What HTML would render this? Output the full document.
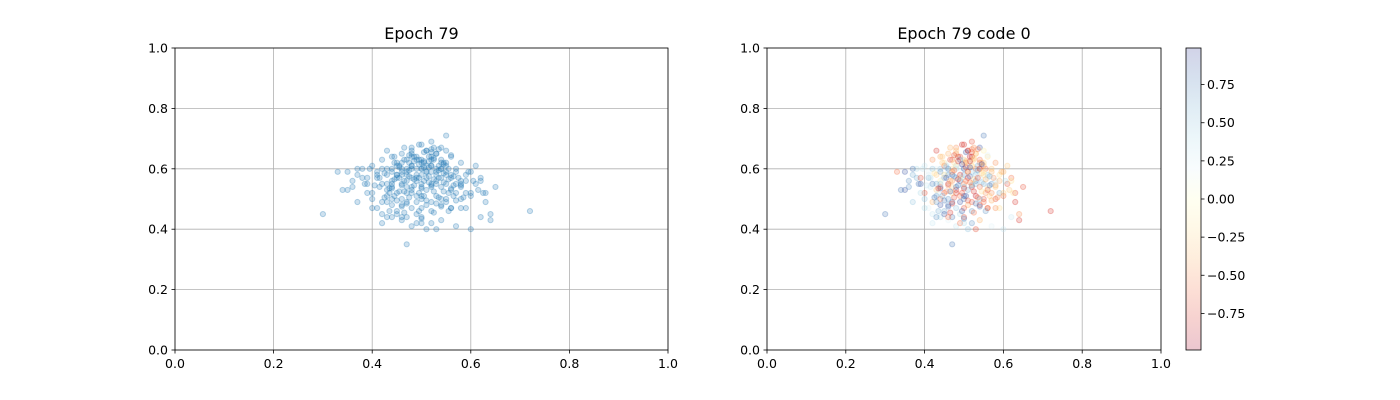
<!DOCTYPE html>
<html><head><meta charset="utf-8"><style>
html,body{margin:0;padding:0;background:#fff;}
svg{display:block;font-family:"DejaVu Sans","Liberation Sans",sans-serif;}
</style></head><body>
<svg id="fig" width="1400" height="400" viewBox="0 0 1400 400" xmlns="http://www.w3.org/2000/svg">
<defs>
<linearGradient id="cmap" x1="0" y1="1" x2="0" y2="0">
<stop offset="0" stop-color="#a50026"/><stop offset="0.1" stop-color="#d73027"/><stop offset="0.2" stop-color="#f46d43"/><stop offset="0.3" stop-color="#fdae61"/><stop offset="0.4" stop-color="#fee090"/><stop offset="0.5" stop-color="#ffffbf"/><stop offset="0.6" stop-color="#e0f3f8"/><stop offset="0.7" stop-color="#abd9e9"/><stop offset="0.8" stop-color="#74add1"/><stop offset="0.9" stop-color="#4575b4"/><stop offset="1" stop-color="#313695"/>
</linearGradient>
</defs>
<g id="root"></g>
</svg>
<script>
const xs=[0.30,0.33,0.35,0.36,0.37,0.38,0.39,0.40,0.40,0.41,0.41,0.42,0.42,0.42,0.43,0.43,0.43,0.44,0.44,0.44,0.44,0.45,0.45,0.45,0.45,0.46,0.46,0.46,0.46,0.46,0.47,0.47,0.47,0.47,0.47,0.48,0.48,0.48,0.48,0.48,0.48,0.49,0.49,0.49,0.49,0.49,0.50,0.50,0.50,0.50,0.50,0.50,0.51,0.51,0.51,0.51,0.51,0.52,0.52,0.52,0.52,0.52,0.53,0.53,0.53,0.53,0.53,0.54,0.54,0.54,0.54,0.55,0.55,0.55,0.55,0.56,0.56,0.56,0.57,0.57,0.57,0.58,0.58,0.58,0.59,0.59,0.60,0.60,0.61,0.62,0.63,0.64,0.65,0.72,0.47,0.50,0.52,0.55,0.53,0.49,0.44,0.46,0.48,0.51,0.54,0.56,0.43,0.45,0.47,0.50,0.52,0.55,0.57,0.59,0.41,0.38,0.36,0.34,0.40,0.42,0.44,0.46,0.48,0.50,0.52,0.54,0.56,0.58,0.60,0.62,0.49,0.51,0.53,0.47,0.45,0.43,0.55,0.57,0.50,0.48,0.52,0.46,0.54,0.44,0.58,0.39,0.61,0.63,0.35,0.37,0.42,0.60,0.64,0.52,0.49,0.47,0.51,0.53,0.45,0.50,0.56,0.43,0.40,0.59,0.62,
0.445,0.455,0.465,0.475,0.485,0.495,0.505,0.515,0.525,0.535,0.545,0.555,0.44,0.45,0.46,0.47,0.48,0.49,0.50,0.51,0.52,0.53,0.54,0.55,0.445,0.455,0.465,0.475,0.485,0.495,0.505,0.515,0.525,0.535,0.545,0.555,0.43,0.44,0.46,0.48,0.50,0.52,0.54,0.56,0.58,0.435,0.465,0.495,0.525,0.555,0.415,0.425,0.445,0.475,0.505,0.535,0.565,0.585,0.41,0.43,0.45,0.47,0.49,0.51,0.53,0.55,0.57,0.42,0.46,0.50,0.54,0.58,0.405,0.435,0.465,0.495,0.525,0.555,0.44,0.48,0.52,0.56,0.46,0.50,0.54,0.48,0.52,0.39,0.37,0.385,0.395,0.605,0.615,0.595,0.575,0.625,0.475,0.505,0.535,0.485,0.515,0.455,0.545,0.565,0.425,0.415,0.525,0.495,0.465,0.445,0.535,0.505,0.475,0.485,0.515,0.545,0.455,0.435,0.565,0.505,0.525,0.545,0.495,0.515];
const ys=[0.45,0.59,0.53,0.56,0.49,0.60,0.55,0.52,0.61,0.57,0.47,0.63,0.55,0.42,0.58,0.51,0.66,0.60,0.54,0.48,0.44,0.62,0.57,0.52,0.46,0.65,0.59,0.55,0.50,0.43,0.63,0.58,0.54,0.49,0.35,0.67,0.61,0.57,0.53,0.47,0.41,0.64,0.60,0.56,0.51,0.45,0.68,0.62,0.58,0.55,0.50,0.44,0.66,0.61,0.57,0.53,0.48,0.69,0.63,0.59,0.54,0.46,0.65,0.60,0.56,0.51,0.40,0.67,0.62,0.57,0.48,0.71,0.61,0.55,0.50,0.64,0.58,0.53,0.60,0.55,0.41,0.62,0.56,0.50,0.58,0.52,0.59,0.40,0.55,0.57,0.49,0.43,0.54,0.46,0.60,0.63,0.61,0.58,0.65,0.57,0.56,0.62,0.64,0.59,0.60,0.57,0.53,0.58,0.52,0.60,0.55,0.62,0.52,0.56,0.59,0.57,0.54,0.53,0.50,0.49,0.50,0.48,0.52,0.51,0.49,0.50,0.47,0.54,0.51,0.56,0.63,0.66,0.59,0.56,0.61,0.60,0.66,0.59,0.54,0.60,0.64,0.58,0.63,0.55,0.55,0.52,0.61,0.52,0.59,0.60,0.45,0.52,0.45,0.42,0.42,0.44,0.40,0.55,0.45,0.42,0.47,0.44,0.47,0.47,0.44,
0.62,0.61,0.63,0.62,0.64,0.63,0.62,0.64,0.63,0.61,0.62,0.60,0.59,0.58,0.60,0.59,0.61,0.58,0.60,0.59,0.61,0.58,0.60,0.59,0.565,0.57,0.56,0.575,0.565,0.57,0.56,0.575,0.565,0.57,0.555,0.565,0.55,0.535,0.545,0.54,0.535,0.545,0.54,0.535,0.545,0.52,0.525,0.52,0.525,0.52,0.57,0.505,0.51,0.505,0.51,0.505,0.51,0.505,0.58,0.49,0.495,0.485,0.49,0.495,0.485,0.49,0.495,0.60,0.475,0.47,0.475,0.47,0.545,0.46,0.455,0.46,0.455,0.46,0.64,0.65,0.655,0.645,0.44,0.435,0.43,0.66,0.665,0.57,0.58,0.55,0.60,0.56,0.53,0.59,0.57,0.52,0.595,0.605,0.595,0.625,0.625,0.605,0.585,0.545,0.585,0.54,0.67,0.68,0.67,0.64,0.665,0.655,0.645,0.545,0.555,0.525,0.525,0.535,0.575,0.625,0.635,0.615,0.615,0.605];
const cs=[0.8,-0.6,0.9,0.7,0.5,0.4,0.9,-0.7,0.3,0.6,0.2,-0.5,0.8,0.3,-0.3,0.7,-0.8,0.5,-0.6,0.9,0.4,-0.2,0.8,-0.7,0.6,-0.4,0.3,-0.9,0.7,0.2,-0.6,0.9,-0.3,0.8,0.8,-0.5,-0.2,0.6,-0.8,0.5,0.3,-0.7,0.2,0.9,-0.6,0.4,-0.8,-0.3,0.7,-0.5,0.8,-0.7,-0.6,0.1,-0.9,0.6,-0.4,-0.7,-0.2,0.5,-0.8,0.7,-0.3,-0.6,0.8,-0.9,-0.7,0.9,-0.5,0.3,-0.8,0.8,-0.4,0.6,-0.7,-0.2,0.5,-0.8,-0.3,0.7,0.2,-0.5,0.3,-0.7,-0.2,0.6,-0.4,0.3,-0.7,-0.6,-0.8,-0.8,-0.7,-0.8,-0.2,-0.3,-0.1,-0.2,-0.3,-0.2,-0.1,0.2,0.1,-0.4,-0.6,0.3,-0.3,0.2,-0.2,0.3,-0.1,-0.3,-0.5,-0.4,0.2,0.6,0.7,0.8,0.5,-0.4,-0.6,0.7,-0.8,0.9,-0.7,0.6,-0.5,-0.3,-0.6,-0.2,0.8,-0.9,0.3,-0.5,-0.6,0.2,-0.1,-0.4,0.6,0.4,-0.8,0.7,-0.6,0.5,0.2,0.4,-0.3,-0.7,0.9,0.8,0.3,-0.3,-0.5,0.7,-0.6,0.8,0.5,0.6,0.9,0.4,-0.7,0.7,0.4,-0.2,0.3,
-0.3,0.4,-0.7,-0.2,-0.8,0.3,-0.5,-0.9,-0.3,0.6,-0.4,-0.6,0.7,-0.2,0.8,-0.5,0.3,-0.8,0.9,-0.6,-0.3,0.5,-0.7,-0.1,0.2,0.9,-0.4,0.7,-0.8,0.4,-0.6,0.8,-0.3,-0.7,0.5,-0.4,0.6,0.9,-0.5,0.8,-0.8,0.7,-0.6,-0.2,-0.4,0.3,0.9,-0.7,-0.8,-0.5,0.4,0.8,0.6,-0.7,0.9,-0.6,-0.3,-0.5,0.2,0.7,0.8,-0.8,0.9,-0.7,0.8,-0.6,-0.4,0.5,0.9,-0.7,0.8,-0.5,0.3,0.6,-0.8,0.9,-0.6,0.7,-0.4,-0.5,-0.7,0.2,-0.6,0.8,-0.4,-0.3,-0.6,-0.7,0.6,0.8,0.3,0.4,-0.3,-0.4,-0.5,-0.2,-0.6,-0.7,0.7,-0.8,-0.9,0.5,-0.3,0.8,-0.2,0.3,-0.5,-0.8,-0.4,-0.3,-0.6,0.9,-0.7,0.8,-0.6,-0.2,-0.5,-0.8,0.6,-0.4,-0.3];
const xticks=[0,0.2,0.4,0.6,0.8,1.0];
const xtickLabels=["0.0","0.2","0.4","0.6","0.8","1.0"];
const cbTicks=[-0.75,-0.5,-0.25,0,0.25,0.5,0.75];
const cbTickLabels=["\u22120.75","\u22120.50","\u22120.25","0.00","0.25","0.50","0.75"];
const NS='http://www.w3.org/2000/svg';
const root=document.getElementById('root');
function mk(tag,attrs,parent){const e=document.createElementNS(NS,tag);for(const k in attrs)e.setAttribute(k,attrs[k]);(parent||root).appendChild(e);return e;}
const stops=[[-1,[165,0,38]],[-0.8,[215,48,39]],[-0.6,[244,109,67]],[-0.4,[253,174,97]],[-0.2,[254,224,144]],[0,[255,255,191]],[0.2,[224,243,248]],[0.4,[171,217,233]],[0.6,[116,173,209]],[0.8,[69,117,180]],[1,[49,54,149]]];
function cmap(v){v=Math.max(-1,Math.min(1,v));for(let i=0;i<stops.length-1;i++){const a=stops[i],b=stops[i+1];if(v<=b[0]){const t=(v-a[0])/(b[0]-a[0]);const c=a[1].map((q,j)=>Math.round(q+(b[1][j]-q)*t));return `rgb(${c[0]},${c[1]},${c[2]})`;}}return 'rgb(49,54,149)';}
function panel(name,x0,w,title,colored){
  const y0=48,h=302;
  const sx=v=>x0+v*w, sy=v=>y0+h-v*h;
  const g=mk('g',{});
  
  
  xticks.forEach((t,i)=>{
    const gl=mk('line',{x1:sx(t),x2:sx(t),y1:y0,y2:y0+h,stroke:'#b0b0b0','stroke-width':0.8},g);
    
    
    const hl=mk('line',{x1:x0,x2:x0+w,y1:sy(t),y2:sy(t),stroke:'#b0b0b0','stroke-width':0.8},g);
    
    
    mk('line',{x1:sx(t),x2:sx(t),y1:y0+h,y2:y0+h+3.5,stroke:'#000','stroke-width':0.8},g);
    mk('line',{x1:x0-3.5,x2:x0,y1:sy(t),y2:sy(t),stroke:'#000','stroke-width':0.8},g);
    const xl=mk('text',{x:sx(t),y:y0+h+18,'text-anchor':'middle','font-size':12.5,fill:'#000'},g);
    xl.textContent=xtickLabels[i];
    
    
    const yl=mk('text',{x:x0-7,y:sy(t)+4.5,'text-anchor':'end','font-size':12.5,fill:'#000'},g);
    yl.textContent=xtickLabels[i];
    
    
  });
  const pts=mk('g',{},g);
  
  
  xs.forEach((x,i)=>{
    const col=colored?cmap(cs[i]):'#1f77b4';
    const c=mk('circle',{cx:sx(x),cy:sy(ys[i]),r:2.6,fill:col,'fill-opacity':0.22,stroke:col,'stroke-opacity':0.3,'stroke-width':1},pts);
    
    
  });
  const fr=mk('rect',{x:x0,y:y0,width:w,height:h,fill:'none',stroke:'#000','stroke-width':0.8},g);
  
  
  const tt=mk('text',{x:x0+w/2,y:y0-9,'text-anchor':'middle','font-size':16,fill:'#000'},g);
  tt.textContent=title;
  
  
}
panel('left-scatter-axes',175,493,'Epoch 79',false);
panel('right-scatter-axes',767,394,'Epoch 79 code 0',true);
const cb=mk('g',{});


const cby0=48,cbh=302,cbx=1186,cbw=15,cmin=-0.99,cmax=0.99;
const cy=v=>cby0+cbh-(v-cmin)/(cmax-cmin)*cbh;
mk('rect',{x:cbx,y:cby0,width:cbw,height:cbh,fill:'url(#cmap)','fill-opacity':0.22},cb);
mk('rect',{x:cbx,y:cby0,width:cbw,height:cbh,fill:'none',stroke:'#000','stroke-width':0.8},cb);
cbTicks.forEach((t,i)=>{
  mk('line',{x1:cbx+cbw,x2:cbx+cbw+3.5,y1:cy(t),y2:cy(t),stroke:'#000','stroke-width':0.8},cb);
  const l=mk('text',{x:cbx+cbw+6,y:cy(t)+4.5,'font-size':12.5,fill:'#000'},cb);
  l.textContent=cbTickLabels[i];
  
  
});
</script>
</body></html>
